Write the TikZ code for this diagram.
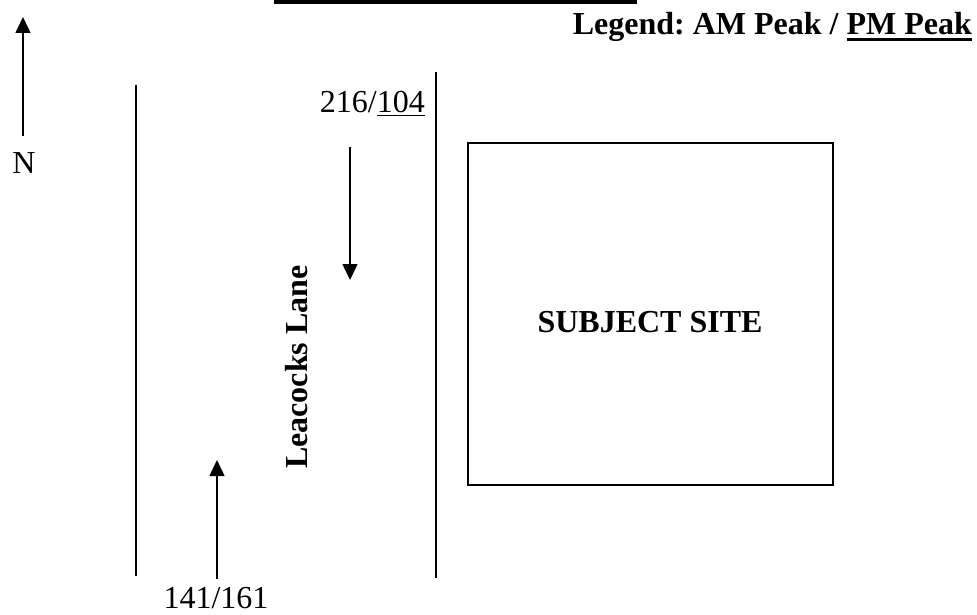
\documentclass[tikz,border=0pt]{standalone}
\usepackage{fontspec}
\setmainfont{Liberation Serif}
\usetikzlibrary{arrows.meta}
\frenchspacing
\newcommand{\thinul}[1]{\setbox0\hbox{#1}\rlap{\rule[-3.5pt]{\wd0}{1.3pt}}\box0}
\newcommand{\thickul}[1]{\setbox0\hbox{#1}\rlap{\rule[-6pt]{\wd0}{2.6pt}}\box0}
\begin{document}
\begin{tikzpicture}[x=1pt,y=-1pt,
  road/.style={line width=1.5pt},
  flow/.style={line width=1.5pt,-{Triangle[width=15pt,length=16pt]}},
  lbl/.style={font=\fontsize{32}{38}\selectfont,inner sep=0pt},
  blbl/.style={font=\fontsize{32}{38}\selectfont\bfseries,inner sep=0pt}]
\useasboundingbox (0,0) rectangle (977,615);
% top bar
\fill (274,0) rectangle (637,4);
% north arrow
\coordinate (nS) at (23,136);
\coordinate (nE) at (23,17);
\draw[flow] (nS) -- (nE);
\node[lbl,anchor=base] (N) at (24,173) {N};
% legend
\node[blbl,anchor=base east] (legend) at (972,35) {\frenchspacing Legend: AM Peak / \thickul{PM Peak}};
% roads
\coordinate (lT) at (136,85);
\coordinate (lB) at (136,576);
\draw[road] (lT) -- (lB);
\coordinate (mT) at (436,72);
\coordinate (mB) at (436,578);
\draw[road] (mT) -- (mB);
% flows
\coordinate (dS) at (350,147);
\coordinate (dE) at (350,280);
\draw[flow] (dS) -- (dE);
\coordinate (uS) at (217,579);
\coordinate (uE) at (217,460);
\draw[flow] (uS) -- (uE);
\node[lbl,anchor=base east] (sb) at (425,113) {216/\thinul{104}};
\node[lbl,anchor=base] (nb) at (216,608) {141/161};
% road name
\node[blbl,rotate=90] (lane) at (297,367) {Leacocks Lane};
% site
\node[draw,line width=1.5pt,minimum width=365pt,minimum height=342pt,inner sep=0pt] (site) at (650.5,314) {};
\node[blbl,anchor=base] (sitelbl) at (650,332) {SUBJECT SITE};
\end{tikzpicture}
\end{document}
